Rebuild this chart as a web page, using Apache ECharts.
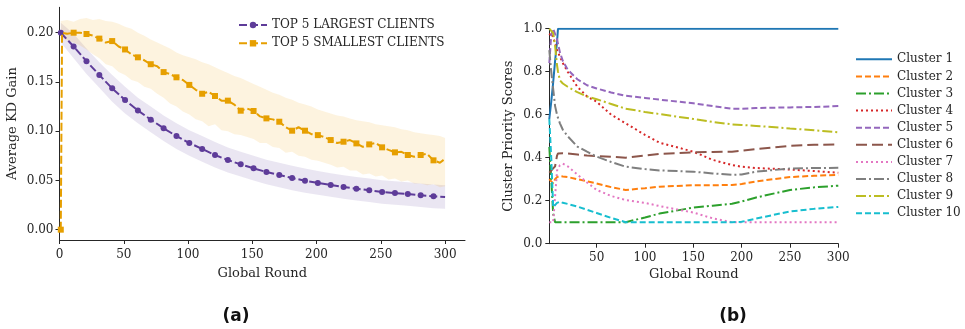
<!DOCTYPE html>
<html><head><meta charset="utf-8">
<script src="https://cdn.jsdelivr.net/npm/echarts@6/dist/echarts.min.js"></script>
<style>html,body{margin:0;padding:0;background:#fff}#c{width:965px;height:329px}</style>
</head><body><div id="c"></div>
<script>
// ---------- Panel (a) ----------
const largeX = [1,11,21,31,41,51,61,71,81,91,101,111,121,131,141,151,161,171,181,191,201,211,221,231,241,251,261,271,281,291,300];
const largeMean = [0.200,0.186,0.171,0.157,0.1435,0.1316,0.121,0.1117,0.103,0.095,0.088,0.082,0.0758,0.0707,0.0663,0.0623,0.0585,0.0555,0.0525,0.0497,0.0474,0.0453,0.0433,0.0416,0.040,0.0382,0.0372,0.0362,0.0349,0.0338,0.0332];
const largeUpper = [0.21,0.199,0.184,0.17,0.157,0.145,0.134,0.125,0.116,0.108,0.101,0.095,0.089,0.0835,0.079,0.075,0.071,0.068,0.065,0.062,0.0595,0.0573,0.0553,0.0536,0.052,0.0502,0.0492,0.0482,0.0469,0.0458,0.045];
const largeLower = [0.19,0.174,0.158,0.144,0.130,0.118,0.108,0.099,0.090,0.082,0.075,0.069,0.063,0.058,0.054,0.050,0.046,0.043,0.040,0.0375,0.0354,0.0333,0.0313,0.0296,0.028,0.0262,0.0252,0.0242,0.0229,0.0218,0.0212];

const smallX = [1,2,6,11,16,21,26,31,36,41,46,51,56,61,66,71,76,81,86,91,96,101,106,111,116,121,126,131,136,141,146,151,156,161,166,171,176,181,186,191,196,201,206,211,216,221,226,231,236,241,246,251,256,261,266,271,276,281,286,291,296,300];
const smallMean = [0,0.2,0.199,0.2,0.2,0.1987,0.197,0.194,0.19,0.1915,0.186,0.183,0.178,0.175,0.172,0.168,0.166,0.16,0.158,0.1547,0.152,0.147,0.142,0.138,0.14,0.1357,0.131,0.131,0.127,0.1208,0.123,0.1205,0.115,0.113,0.112,0.1096,0.104,0.1005,0.104,0.1005,0.097,0.096,0.094,0.091,0.088,0.0893,0.091,0.0876,0.084,0.0866,0.088,0.0836,0.081,0.0785,0.079,0.0758,0.074,0.0758,0.077,0.0704,0.068,0.072];
const bandX = [1,6,11,16,21,26,31,36,41,46,51,56,61,66,71,76,81,86,91,96,101,106,111,116,121,126,131,136,141,146,151,156,161,166,171,176,181,186,191,196,201,206,211,216,221,226,231,236,241,246,251,256,261,266,271,276,281,286,291,296,300];
const smallUpper = [0.212,0.213,0.211,0.214,0.215,0.213,0.214,0.212,0.211,0.209,0.206,0.204,0.200,0.197,0.193,0.190,0.187,0.184,0.180,0.177,0.175,0.173,0.170,0.168,0.165,0.162,0.159,0.156,0.154,0.151,0.148,0.145,0.142,0.139,0.137,0.134,0.132,0.129,0.127,0.125,0.122,0.120,0.118,0.116,0.115,0.113,0.111,0.110,0.109,0.107,0.106,0.105,0.104,0.102,0.101,0.099,0.098,0.097,0.096,0.095,0.093];
const smallLower = [0.196,0.192,0.19,0.187,0.183,0.178,0.174,0.168,0.166,0.160,0.157,0.152,0.150,0.145,0.143,0.138,0.134,0.128,0.125,0.120,0.117,0.112,0.110,0.105,0.107,0.101,0.100,0.097,0.096,0.094,0.092,0.088,0.088,0.084,0.083,0.078,0.079,0.075,0.074,0.071,0.070,0.068,0.066,0.063,0.064,0.060,0.060,0.056,0.057,0.054,0.055,0.051,0.052,0.049,0.050,0.047,0.047,0.045,0.046,0.043,0.044];

const ticksA_x = [0,50,100,150,200,250,300];
const ticksA_y = [0,0.05,0.10,0.15,0.20];

// ---------- Panel (b) ----------
const rounds = [1,3,5,7,9,10,12,15,20,30,40,50,65,80,100,115,150,170,190,200,215,250,275,300];
const clusterNames = ['Cluster 1','Cluster 2','Cluster 3','Cluster 4','Cluster 5','Cluster 6','Cluster 7','Cluster 8','Cluster 9','Cluster 10'];
const c1 = [0.58,0.66,0.75,0.85,0.94,1.0,1.0,1.0,1.0,1.0,1.0,1.0,1.0,1.0,1.0,1.0,1.0,1.0,1.0,1.0,1.0,1.0,1.0,1.0];
const c2 = [0.30,0.29,0.28,0.30,0.31,0.315,0.315,0.313,0.31,0.30,0.29,0.28,0.263,0.25,0.258,0.265,0.272,0.272,0.273,0.278,0.29,0.31,0.316,0.32];
const c3 = [0.45,0.30,0.14,0.10,0.10,0.10,0.10,0.10,0.10,0.10,0.10,0.10,0.10,0.10,0.122,0.14,0.168,0.177,0.186,0.196,0.215,0.25,0.262,0.27];
const c4 = [0.97,0.98,0.96,0.93,0.90,0.89,0.87,0.84,0.80,0.73,0.685,0.66,0.60,0.56,0.506,0.47,0.428,0.39,0.366,0.358,0.352,0.345,0.338,0.33];
const c5 = [0.84,0.97,1.0,1.0,0.95,0.93,0.89,0.85,0.81,0.765,0.737,0.722,0.703,0.688,0.678,0.67,0.653,0.64,0.628,0.628,0.631,0.634,0.636,0.64];
const c6 = [0.33,0.34,0.35,0.36,0.41,0.42,0.422,0.421,0.42,0.415,0.41,0.408,0.404,0.40,0.41,0.418,0.425,0.427,0.428,0.432,0.44,0.455,0.46,0.462];
const c7 = [0.10,0.10,0.10,0.10,0.34,0.35,0.365,0.372,0.36,0.322,0.285,0.25,0.222,0.203,0.19,0.175,0.145,0.118,0.10,0.10,0.10,0.10,0.10,0.10];
const c8 = [0.90,0.80,0.72,0.64,0.60,0.585,0.56,0.53,0.50,0.452,0.428,0.405,0.38,0.358,0.347,0.341,0.335,0.327,0.32,0.322,0.335,0.35,0.352,0.353];
const c9 = [1.0,1.0,0.98,0.92,0.83,0.80,0.76,0.745,0.73,0.705,0.685,0.672,0.65,0.628,0.613,0.603,0.58,0.566,0.555,0.552,0.548,0.536,0.528,0.518];
const c10 = [0.58,0.40,0.17,0.17,0.19,0.196,0.195,0.19,0.185,0.173,0.158,0.143,0.12,0.10,0.10,0.10,0.10,0.10,0.10,0.102,0.117,0.15,0.162,0.171];
const clusterValues = [c1,c2,c3,c4,c5,c6,c7,c8,c9,c10];
const ticksB_x = [50,100,150,200,250,300];
const ticksB_y = [0,0.2,0.4,0.6,0.8,1.0];

// ---------- styles ----------
const FONT = 'DejaVu Serif';
const TXT = '#262626';
const clusterColors = ['#1f77b4','#ff7f0e','#2ca02c','#d62728','#9467bd','#8c564b','#e377c2','#7f7f7f','#bcbd22','#17becf'];
const clusterDash = ['solid',[6,3],[10,3,2,3],[2,3],[6,3],[11,5],[2,3],[10,3,2,3],[10,3,2,3],[6,3]];
const PURPLE = '#5e3c99', ORANGE = '#e69f00';

const zip = (xs, ys) => xs.map((x,i)=>[x, ys[i]]);
const markerSize = s => function(val){ return ((val[0]-1) % 10 === 0) ? s : 0; };

function bandSeries(xs, up, lo, fill){
  return {
    type:'custom', xAxisIndex:0, yAxisIndex:0, silent:true, z:1,
    data: xs.map((x,i)=>[x, up[i], lo[i]]),
    encode:{x:0, y:[1,2]},
    renderItem:function(params, api){
      if (params.dataIndex !== 0) return null;
      const pts = [];
      for (let i=0;i<xs.length;i++) pts.push(api.coord([xs[i], up[i]]));
      for (let i=xs.length-1;i>=0;i--) pts.push(api.coord([xs[i], lo[i]]));
      return {type:'polygon', shape:{points:pts}, style:{fill:fill}};
    }
  };
}

function axisCommon(margin){
  return {
    axisLine:{show:true,onZero:false,lineStyle:{color:'#262626',width:1}},
    axisTick:{show:true,length:4,lineStyle:{color:'#262626'}},
    splitLine:{show:false},
    axisLabel:{color:TXT,fontFamily:FONT,fontSize:12,margin:margin},
    nameTextStyle:{color:TXT,fontFamily:FONT,fontSize:13}
  };
}
function makeAxis(base, margin, ticks, fmt){
  const c = axisCommon(margin);
  const lab = Object.assign(c.axisLabel,{customValues:ticks});
  if (fmt) lab.formatter = fmt;
  return Object.assign(c, base, {axisLabel:lab, axisTick:Object.assign(c.axisTick,{customValues:ticks})});
}

const series = [];
series.push(bandSeries(largeX, largeUpper, largeLower, 'rgba(94,60,153,0.13)'));
series.push(bandSeries(bandX, smallUpper, smallLower, 'rgba(240,170,30,0.14)'));
series.push({name:'TOP 5 LARGEST CLIENTS',type:'line',xAxisIndex:0,yAxisIndex:0,data:zip(largeX,largeMean),
  symbol:'circle',symbolSize:markerSize(6),showSymbol:true,showAllSymbol:true,
  lineStyle:{color:PURPLE,width:2,type:[8,3]},itemStyle:{color:PURPLE},z:3});
series.push({name:'TOP 5 SMALLEST CLIENTS',type:'line',xAxisIndex:0,yAxisIndex:0,data:zip(smallX,smallMean),
  symbol:'rect',symbolSize:markerSize(6),showSymbol:true,showAllSymbol:true,
  lineStyle:{color:ORANGE,width:2,type:[8,3]},itemStyle:{color:ORANGE},z:4});
clusterNames.forEach((n,i)=>{
  series.push({name:n,type:'line',xAxisIndex:1,yAxisIndex:1,data:zip(rounds,clusterValues[i]),symbol:'none',
    lineStyle:{color:clusterColors[i],width:2,type:clusterDash[i]},itemStyle:{color:clusterColors[i]},z:2+i});
});

const option = {
  animation:false,
  backgroundColor:'#fff',
  grid:[
    {left:59.5,top:7.3,right:500,bottom:89,containLabel:false},
    {left:549.3,top:28.7,right:126.7,bottom:85.3,containLabel:false}
  ],
  xAxis:[
    makeAxis({type:'value',gridIndex:0,min:0,max:315.5,name:'Global Round',nameLocation:'middle',nameGap:27}, 9, ticksA_x),
    makeAxis({type:'value',gridIndex:1,min:1,max:300,name:'Global Round',nameLocation:'middle',nameGap:24}, 8, ticksB_x)
  ],
  yAxis:[
    makeAxis({type:'value',gridIndex:0,min:-0.0105,max:0.2258,name:'Average KD Gain',nameLocation:'middle',nameGap:40}, 6, ticksA_y, v=>v.toFixed(2)),
    makeAxis({type:'value',gridIndex:1,min:0,max:1,name:'Cluster Priority Scores',nameLocation:'middle',nameGap:34}, 7, ticksB_y, v=>v.toFixed(1))
  ],
  legend:[
    {data:['TOP 5 LARGEST CLIENTS','TOP 5 SMALLEST CLIENTS'],orient:'vertical',left:233,top:13,itemWidth:28,itemHeight:8,itemGap:4.3,
      textStyle:{color:TXT,fontFamily:FONT,fontSize:12,lineHeight:14}},
    {data:clusterNames,orient:'vertical',left:850,top:47.3,itemWidth:36,itemHeight:8,itemGap:3.1,
      itemStyle:{opacity:0},
      textStyle:{color:TXT,fontFamily:FONT,fontSize:12,lineHeight:14}}
  ],
  graphic:[
    {type:'text',style:{text:'(a)',x:236,y:317,align:'center',verticalAlign:'middle',font:'bold 17px "DejaVu Sans"',fill:'#111'}},
    {type:'text',style:{text:'(b)',x:733,y:317,align:'center',verticalAlign:'middle',font:'bold 17px "DejaVu Sans"',fill:'#111'}}
  ],
  series:series
};
const chart = echarts.init(document.getElementById('c'),null,{renderer:'canvas'});
chart.setOption(option);
</script></body></html>
